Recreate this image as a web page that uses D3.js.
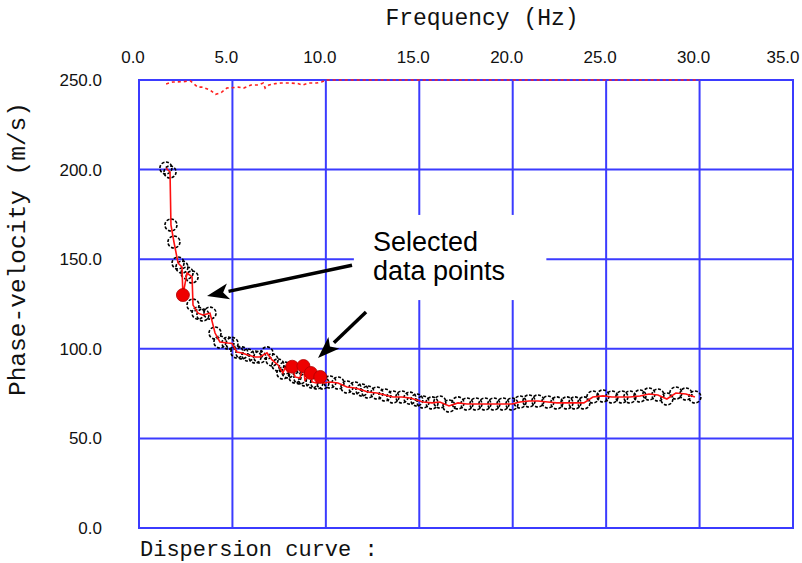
<!DOCTYPE html>
<html><head><meta charset="utf-8">
<script src="https://cdn.jsdelivr.net/npm/d3@7"></script>
<style>
html,body{margin:0;padding:0;background:#fff;}
svg{display:block;}
</style></head>
<body>
<svg id="chart" width="802" height="563"></svg>
<script>
// ---- data ----
const xTicks = [0, 5, 10, 15, 20, 25, 30, 35];
const yTicks = [0, 50, 100, 150, 200, 250];
const curveFreq = [1.44,1.66,1.71,1.87,2.09,2.30,2.57,2.84,2.89,3.16,3.42,3.80,4.07,4.33,4.76,4.98,5.24,5.51,5.83,6.21,6.47,6.85,7.12,7.44,7.70,7.81,7.97,8.35,8.61,8.88,9.26,9.52,9.84,10.22,10.65,11.13,11.56,11.93,12.25,12.73,13.16,13.59,14.07,14.50,14.87,15.20,15.68,16.10,16.59,17.07,17.55,18.03,18.51,18.99,19.48,19.96,20.39,20.87,21.35,21.88,22.36,22.90,23.33,23.81,24.29,24.83,25.31,25.84,26.27,26.81,27.29,27.77,28.25,28.73,29.27,29.75];
const curveVel  = [200.9,198.7,169.1,159.6,147.9,145.6,142.3,140.1,124.4,119.9,118.9,119.9,108.8,103.8,103.2,103.0,98.2,97.7,96.5,95.4,95.4,97.7,93.8,91.0,86.5,89.3,87.1,84.3,83.7,82.6,81.5,80.9,80.9,81.5,80.9,78.7,78.1,77.0,75.9,75.3,74.2,73.1,73.1,72.5,71.4,70.3,69.8,70.3,68.1,69.8,69.2,69.2,69.2,69.2,69.2,69.2,70.3,70.9,70.9,70.3,69.8,69.8,69.8,69.8,73.1,73.7,73.1,73.1,73.1,73.7,74.8,74.2,72.0,75.3,74.8,73.1];
const selectedFreq = [2.35, 8.20, 8.80, 9.20, 9.70];
const selectedVel  = [130.0, 90.0, 90.4, 86.5, 84.3];
const topFreq = [1.45,1.8,2.3,2.75,3.15,3.4,3.8,4.1,4.4,4.7,5.3,5.6,6.0,6.4,6.65,6.75,6.95,7.3,7.6,8.1,8.5,8.75,9.1,9.5,9.8,10.0,15,20,25,30];
const topVel  = [247.8,248.9,249.0,249.5,246.0,246.0,244.4,242.0,243.0,245.5,246.0,245.5,247.2,247.2,248.3,245.5,247.2,248.0,248.3,248.3,248.0,247.2,248.3,248.3,249.0,250,250,250,250,250];
const xTitle = "Frequency (Hz)";
const yTitle = "Phase-velocity (m/s)";
const footer = "Dispersion curve :";
const noteLines = ["Selected", "data points"];

// ---- layout ----
const W = 802;
const svg = d3.select("#chart");
const x = d3.scaleLinear().domain([0, 35]).range([139, 793]);
const y = d3.scaleLinear().domain([0, 250]).range([528, 80]);
const gridColor = "#3b3bff";
const mono = "'Liberation Mono','Courier New',monospace";
const tickFont = "'Liberation Sans',Arial,sans-serif";

// grid
const g = svg.append("g");
g.selectAll("line.v").data(xTicks).join("line")
  .attr("x1", d => x(d)).attr("x2", d => x(d))
  .attr("y1", y(0)).attr("y2", y(250))
  .attr("stroke", gridColor).attr("stroke-width", 2);
g.selectAll("line.h").data(yTicks).join("line")
  .attr("x1", x(0) - 1).attr("x2", x(35) + 1)
  .attr("y1", d => y(d)).attr("y2", d => y(d))
  .attr("stroke", gridColor).attr("stroke-width", 2);

// tick labels
svg.append("g").selectAll("text").data(xTicks).join("text")
  .attr("x", d => Math.min(x(d) - 6, W - 19)).attr("y", 63)
  .attr("text-anchor", "middle")
  .attr("font-family", tickFont).attr("font-size", 17)
  .attr("fill", "#111")
  .text(d => d3.format(".1f")(d));
svg.append("g").selectAll("text").data(yTicks).join("text")
  .attr("x", 102).attr("y", d => y(d) + 6)
  .attr("text-anchor", "end")
  .attr("font-family", tickFont).attr("font-size", 17)
  .attr("fill", "#111")
  .text(d => d3.format(".1f")(d));

// titles
svg.append("text").attr("x", 482).attr("y", 25)
  .attr("text-anchor", "middle").attr("font-family", mono).attr("font-size", 23)
  .attr("fill", "#111").text(xTitle);
svg.append("text").attr("transform", "translate(25,249) rotate(-90)")
  .attr("text-anchor", "middle").attr("font-family", mono).attr("font-size", 24.5)
  .attr("fill", "#111").text(yTitle);
svg.append("text").attr("x", 140).attr("y", 556)
  .attr("font-family", mono).attr("font-size", 22)
  .attr("fill", "#111").text(footer);

// top dashed red line
const topData = topFreq.map((f, i) => ({f, v: topVel[i]}));
svg.append("path").datum(topData)
  .attr("d", d3.line().x(d => x(d.f)).y(d => y(d.v)))
  .attr("fill", "none").attr("stroke", "#ff2020").attr("stroke-width", 1.6)
  .attr("stroke-dasharray", "3,3");

const curve = curveFreq.map((f, i) => ({f, v: curveVel[i]}));
const sel = selectedFreq.map((f, i) => ({f, v: selectedVel[i]}));
const all = curve.concat(sel).sort((a, b) => a.f - b.f);

// circles (open, dashed)
svg.append("g").selectAll("circle").data(curve).join("circle")
  .attr("cx", d => x(d.f)).attr("cy", d => y(d.v)).attr("r", 6)
  .attr("fill", "none").attr("stroke", "#000").attr("stroke-width", 1.6)
  .attr("stroke-dasharray", "3,1.6");

// combined red line on top
svg.append("path").datum(all)
  .attr("d", d3.line().x(d => x(d.f)).y(d => y(d.v)))
  .attr("fill", "none").attr("stroke", "#ff1010").attr("stroke-width", 1.6);

// selected points
svg.append("g").selectAll("circle").data(sel).join("circle")
  .attr("cx", d => x(d.f)).attr("cy", d => y(d.v)).attr("r", 6.5)
  .attr("fill", "#ee0000").attr("stroke", "#b00000").attr("stroke-width", 0.8);

// annotation box + text
svg.append("rect")
  .attr("x", x(11.5)).attr("y", y(174.7))
  .attr("width", x(21.8) - x(11.5)).attr("height", y(127.2) - y(174.7))
  .attr("fill", "#fff");
svg.append("g").selectAll("text").data(noteLines).join("text")
  .attr("x", x(12.52)).attr("y", (d, i) => y(154.6) + i * 29)
  .attr("font-family", "'Liberation Sans',Arial,sans-serif").attr("font-size", 27)
  .attr("fill", "#000").text(d => d);

// arrows
const arrows = [
  {from: [11.4, 146.6], to: [3.64, 129.5]},
  {from: [12.15, 120.5], to: [9.58, 94.9]}
];
arrows.forEach(a => {
  const x1 = x(a.from[0]), y1 = y(a.from[1]), x2 = x(a.to[0]), y2 = y(a.to[1]);
  const ang = Math.atan2(y2 - y1, x2 - x1);
  const L = 22, HW = 8;
  const bx = x2 - L * Math.cos(ang), by = y2 - L * Math.sin(ang);
  svg.append("line").attr("x1", x1).attr("y1", y1).attr("x2", bx).attr("y2", by)
    .attr("stroke", "#000").attr("stroke-width", 3.5);
  const px = -Math.sin(ang), py = Math.cos(ang);
  svg.append("path")
    .attr("d", `M${x2},${y2}L${bx + px * HW},${by + py * HW}L${bx + 0.25*L*Math.cos(ang)},${by + 0.25*L*Math.sin(ang)}L${bx - px * HW},${by - py * HW}Z`)
    .attr("fill", "#000");
});
</script>
</body></html>
